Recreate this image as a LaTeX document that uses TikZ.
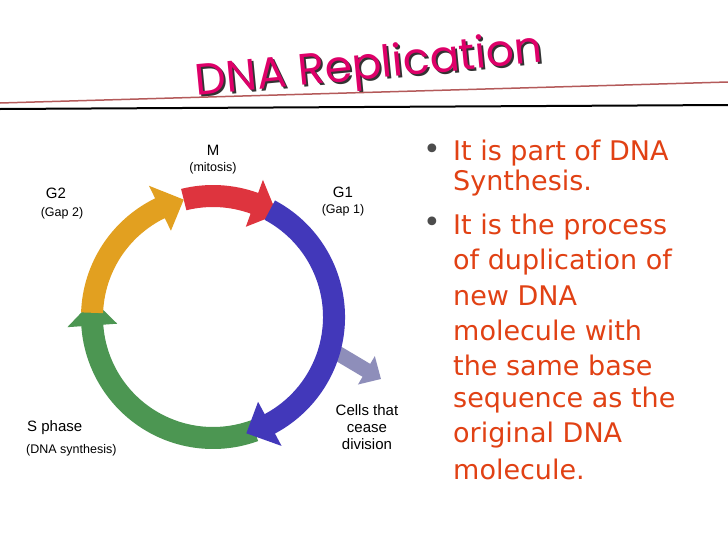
\documentclass[tikz,border=0pt]{standalone}
\usepackage{fontspec}
\setmainfont{DejaVu Sans}
\newfontfamily\titlefont{Poppins}
\newfontfamily\labelfont{Liberation Sans}
\usetikzlibrary{arrows.meta}
\definecolor{titlepink}{RGB}{222,0,105}
\definecolor{bullettext}{RGB}{225,65,20}
\definecolor{mred}{RGB}{222,52,62}
\definecolor{gblue}{RGB}{66,56,186}
\definecolor{sgreen}{RGB}{76,150,82}
\definecolor{gorange}{RGB}{226,160,32}
\definecolor{ceasegray}{RGB}{142,142,186}
\definecolor{rule}{RGB}{180,90,90}
% start angle, head base angle, tip angle, colour
\newcommand{\cyclearrow}[4]{%
  \fill[#4] (#1:132) arc[start angle=#1,end angle=#2,radius=132] -- (#2:146) --
    (#3:121) -- (#2:96) -- (#2:110) arc[start angle=#2,end angle=#1,radius=110] -- cycle;}
\tikzset{
  phase/.style={font=\labelfont\fontsize{15}{17}\selectfont,inner sep=0pt},
  sub/.style={font=\labelfont\fontsize{12.5}{14}\selectfont,inner sep=0pt},
  line/.style={anchor=west,inner sep=0pt,text=bullettext,font=\fontsize{27}{29}\selectfont},
  dot/.style={inner sep=0pt,text=black!70,font=\fontsize{30}{30}\selectfont}
}
\begin{document}
\begin{tikzpicture}[x=1pt,y=-1pt]
\useasboundingbox[fill=white] (0,0) rectangle (728,546);
% title and rules
\node[rotate=5.5,text=black!80,font=\titlefont\fontsize{44}{46}\selectfont] at (371,70) {DNA Replication};
\node[rotate=5.5,text=titlepink,font=\titlefont\fontsize{44}{46}\selectfont] (title) at (369,68) {DNA Replication};
\draw[rule,line width=1.5] (0,103) -- (728,82);
\draw[black,line width=2] (0,109) -- (728,105);
% cell cycle
\begin{scope}[shift={(213,317)},y=1pt]
\draw[ceasegray,line width=15,-{Triangle[length=17,width=32]}] (-15:120) -- (168,-62);
\cyclearrow{-70}{-176}{-188}{sgreen}
\cyclearrow{-182}{-244}{-256}{gorange}
\cyclearrow{104}{70}{58}{mred}
\cyclearrow{62}{-62}{-74}{gblue}
\end{scope}
\node[phase] (m) at (213,150) {M};
\node[sub] (mit) at (213,168) {(mitosis)};
\node[phase] (g2) at (56,193) {G2};
\node[sub] (gap2) at (62,213) {(Gap 2)};
\node[phase] (g1) at (343,192) {G1};
\node[sub] (gap1) at (343,210) {(Gap 1)};
\node[phase,anchor=west] (s) at (27,428) {S phase};
\node[sub,anchor=west] (dnas) at (26,450) {(DNA synthesis)};
\node[phase,align=center] (cease) at (367,427) {Cells that\\cease\\division};
% bullets
\node[dot] (b1) at (432,152) {•};
\node[dot] (b2) at (432,225) {•};
\foreach\t[count=\i] in {It is part of DNA,Synthesis.}
  \node[line] (l\i) at (453,153+30*\i-30) {\t};
\foreach\t[count=\i] in {It is the process,of duplication of,new DNA,molecule with,the same base,sequence as the,original DNA,molecule.}
  \node[line] (m\i) at (453,227+34.6*\i-34.6) {\t};
\end{tikzpicture}
\end{document}
